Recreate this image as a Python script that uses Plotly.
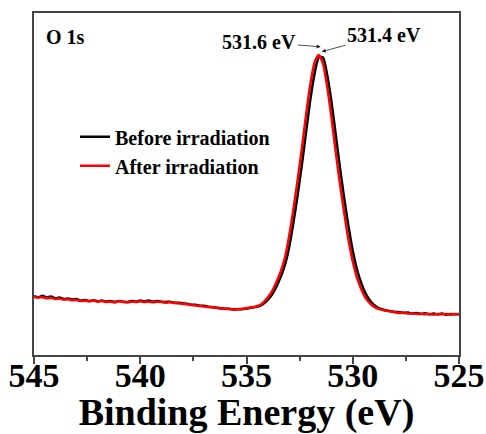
import plotly.graph_objects as go

# Binding energy grid (eV), 545.0 -> 525.0 in 0.2 eV steps
energy = [545.0, 544.8, 544.6, 544.4, 544.2, 544.0, 543.8, 543.6, 543.4, 543.2,
          543.0, 542.8, 542.6, 542.4, 542.2, 542.0, 541.8, 541.6, 541.4, 541.2,
          541.0, 540.8, 540.6, 540.4, 540.2, 540.0, 539.8, 539.6, 539.4, 539.2,
          539.0, 538.8, 538.6, 538.4, 538.2, 538.0, 537.8, 537.6, 537.4, 537.2,
          537.0, 536.8, 536.6, 536.4, 536.2, 536.0, 535.8, 535.6, 535.4, 535.2,
          535.0, 534.8, 534.6,
          534.4, 534.2, 534.0, 533.8, 533.6, 533.4, 533.2, 533.0, 532.8, 532.6,
          532.4, 532.2, 532.0, 531.8, 531.6, 531.4, 531.2, 531.0, 530.8, 530.6,
          530.4, 530.2, 530.0, 529.8, 529.6, 529.4, 529.2, 529.0, 528.8, 528.6,
          528.4, 528.2, 528.0, 527.8, 527.6, 527.4, 527.2, 527.0, 526.8, 526.6,
          526.4, 526.2, 526.0, 525.8, 525.6, 525.4, 525.2, 525.0]

before = [17.2, 16.9, 17.3, 16.8, 17.1, 16.6, 16.8, 16.4, 16.5, 16.2,
          16.4, 15.9, 16.1, 15.8, 16.0, 15.7, 15.9, 15.6, 15.8, 15.5,
          15.8, 15.6, 15.5, 15.8, 15.6, 15.9, 15.7, 15.9, 15.6, 15.8,
          15.6, 15.5, 15.6, 15.3, 15.3, 15.1, 15.0, 14.7, 14.7, 14.4,
          14.4, 14.1, 14.0, 13.8, 13.7, 13.5, 13.5, 13.3, 13.4, 13.4,
          13.6, 13.8, 14.0,
          14.3, 15.0, 16.1, 17.7, 19.9, 22.7, 26.2, 31.3, 38.4, 46.5,
          55.4, 65.0, 74.5, 82.2, 87.0, 87.0, 81.8, 73.9, 64.4, 54.7,
          45.7, 37.6, 30.5, 25.0, 21.0, 18.0, 16.0, 14.6, 13.8, 13.3,
          13.0, 12.8, 12.6, 12.5, 12.3, 12.4, 12.1, 12.3, 12.0, 12.2,
          11.9, 12.1, 11.9, 12.1, 11.8, 12.0, 11.9, 12.0]

after = [17.0, 16.8, 16.9, 16.6, 16.7, 16.4, 16.5, 16.2, 16.3, 16.0,
         16.1, 15.8, 15.9, 15.7, 15.9, 15.6, 15.8, 15.5, 15.6, 15.4,
         15.7, 15.5, 15.4, 15.6, 15.5, 15.7, 15.5, 15.6, 15.4, 15.6,
         15.5, 15.3, 15.4, 15.2, 15.1, 15.0, 14.8, 14.6, 14.5, 14.3,
         14.2, 14.0, 13.9, 13.8, 13.6, 13.5, 13.4, 13.3, 13.4, 13.5,
         13.7, 13.9, 14.1,
         14.5, 15.4, 16.8, 18.6, 21.2, 24.2, 28.2, 34.5, 42.3, 50.8,
         60.1, 70.0, 79.0, 85.4, 87.7, 85.2, 78.4, 69.4, 59.4, 50.0,
         41.5, 33.7, 27.4, 22.6, 19.3, 16.7, 15.2, 14.1, 13.5, 13.2,
         12.9, 12.7, 12.5, 12.3, 12.4, 12.1, 12.2, 12.0, 12.1, 11.9,
         12.0, 11.8, 12.0, 11.9, 12.0, 11.8, 12.0, 11.9]

tick_vals = [545, 540, 535, 530, 525]
tick_text = ["545", "540", "535", "530", "525"]

FONT = "Liberation Serif, Times New Roman, serif"

fig = go.Figure()
fig.add_trace(go.Scatter(x=energy, y=before, mode="lines", name="Before irradiation",
                         line=dict(color="black", width=2.5, shape="spline", smoothing=0.6)))
fig.add_trace(go.Scatter(x=energy, y=after, mode="lines", name="After irradiation",
                         line=dict(color="red", width=2.5, shape="spline", smoothing=0.6)))

fig.update_layout(
    width=486, height=434,
    margin=dict(l=34, r=27, t=13, b=79, autoexpand=False),
    paper_bgcolor="white", plot_bgcolor="white",
    font=dict(family=FONT, color="black", weight="bold"),
    showlegend=True,
    legend=dict(x=0.0965, y=0.695, xanchor="left", yanchor="top",
                bgcolor="rgba(0,0,0,0)", borderwidth=0,
                font=dict(family=FONT, size=20, color="black", weight="bold")),
    xaxis=dict(range=[545, 525], tickvals=tick_vals, ticktext=tick_text, automargin=False,
               ticks="outside", ticklen=7, tickwidth=1.5, tickcolor="#444",
               ticklabelstandoff=-18,
               minor=dict(dtick=2.5, ticks="outside", ticklen=4, tickwidth=1.5, tickcolor="#444"),
               showline=True, linecolor="#444", linewidth=1.5, mirror=True,
               showgrid=False, zeroline=False,
               tickfont=dict(family=FONT, size=34, color="black", weight="bold"),
               title=dict(text="Binding Energy (eV)", standoff=0,
                          font=dict(family=FONT, size=38, color="black", weight="bold"))),
    yaxis=dict(range=[0, 100], showticklabels=False, ticks="", automargin=False,
               showline=True, linecolor="#444", linewidth=1.5, mirror=True,
               showgrid=False, zeroline=False),
    annotations=[
        dict(xref="paper", yref="paper", x=0.0235, y=0.931, xanchor="left", yanchor="middle",
             text="O 1s", showarrow=False,
             font=dict(family=FONT, size=20, color="black", weight="bold")),
        dict(x=531.51, y=90.1, xref="x", yref="y", ax=534.39, ay=91.6, axref="x", ayref="y",
             text="531.6 eV", showarrow=True, arrowhead=2, arrowsize=1, arrowwidth=0.8,
             arrowcolor="#222", standoff=0, startstandoff=0,
             font=dict(family=FONT, size=20, color="black", weight="bold")),
        dict(x=531.46, y=88.7, xref="x", yref="y", ax=528.53, ay=93.6, axref="x", ayref="y",
             text="531.4 eV", showarrow=True, arrowhead=2, arrowsize=1, arrowwidth=0.8,
             arrowcolor="#222", standoff=0, startstandoff=0,
             font=dict(family=FONT, size=20, color="black", weight="bold")),
    ],
)

fig.write_html("out.html", config={"displayModeBar": False},
               post_script="document.body.style.margin='0';")
